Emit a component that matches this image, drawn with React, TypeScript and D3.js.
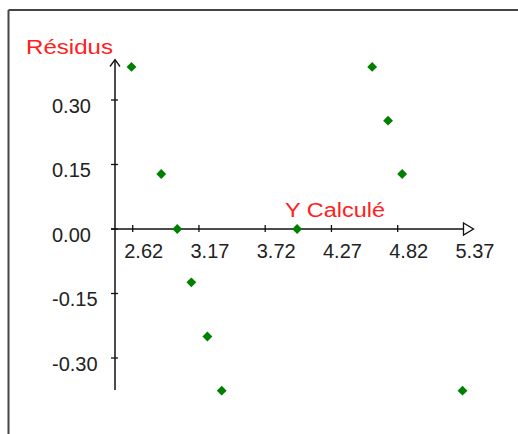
import React from "react";
import * as d3 from "d3";

const yCalc = [2.61, 2.857, 2.99, 3.107, 3.24, 3.359, 3.985, 4.608, 4.74, 4.857, 5.358];
const residus = [0.377, 0.128, 0.0, -0.124, -0.25, -0.376, 0.0, 0.377, 0.252, 0.128, -0.376];
const xTicks = [2.62, 3.17, 3.72, 4.27, 4.82, 5.37];
const yTicks = [0.3, 0.15, 0.0, -0.15, -0.3];

export default function App() {
  const W = 518, H = 434;
  const x = d3.scaleLinear().domain([2.62, 4.82]).range([132.7, 397.7]);
  const y = d3.scaleLinear().domain([0.3, -0.3]).range([100, 358]);
  const y0 = y(0);
  const axX = 115;
  const font = "'Liberation Sans', Arial, sans-serif";
  const diamond = d3.symbol().type(d3.symbolDiamond2).size(62)();
  return (
    <svg width={W} height={H} style={{ position: "absolute", left: 0, top: 0, background: "#fff" }}>
      <rect x={0} y={0} width={W} height={H} fill="#fff" />
      {/* frame */}
      <line x1={8.5} y1={10} x2={W} y2={10} stroke="#444" strokeWidth={2} />
      <line x1={8.5} y1={10} x2={8.5} y2={H} stroke="#444" strokeWidth={2} />
      {/* y axis */}
      <line x1={axX} y1={60} x2={axX} y2={390} stroke="#111" strokeWidth={1.5} />
      <polyline points={`${axX - 5},${66.5} ${axX},${59.5} ${axX + 5},${66.5}`} fill="none" stroke="#111" strokeWidth={1.3} />
      {/* x axis */}
      <line x1={111} y1={y0} x2={463.5} y2={y0} stroke="#111" strokeWidth={1.5} />
      <polygon points={`463.5,${y0 - 6} 473.5,${y0} 463.5,${y0 + 6}`} fill="#fff" stroke="#111" strokeWidth={1.3} />
      {yTicks.map((t) => (
        <g key={"y" + t}>
          <line x1={axX - 4} x2={axX + 3} y1={y(t)} y2={y(t)} stroke="#111" strokeWidth={1.3} />
          <text x={52} y={y(t) + 12.7} fontFamily={font} fontSize={20} fill="#222">
            {t.toFixed(2)}
          </text>
        </g>
      ))}
      {xTicks.map((t, i) => (
        <g key={"x" + t}>
          {i < xTicks.length - 1 && (
            <line x1={x(t)} x2={x(t)} y1={y0 - 4} y2={y0 + 3} stroke="#111" strokeWidth={1.3} />
          )}
          <text x={x(t) + 11} y={258} textAnchor="middle" fontFamily={font} fontSize={20} fill="#222">
            {t.toFixed(2)}
          </text>
        </g>
      ))}
      <text x={26} y={54.3} fontFamily={font} fontSize={21} fill="#ff2020" textLength={87} lengthAdjust="spacingAndGlyphs">
        Résidus
      </text>
      <text x={285} y={216.7} fontFamily={font} fontSize={20} fill="#ff2020" textLength={100} lengthAdjust="spacingAndGlyphs">
        Y Calculé
      </text>
      {yCalc.map((v, i) => (
        <path key={"p" + i} d={diamond as string} transform={`translate(${x(v)},${y(residus[i])})`} fill="#008000" />
      ))}
    </svg>
  );
}
